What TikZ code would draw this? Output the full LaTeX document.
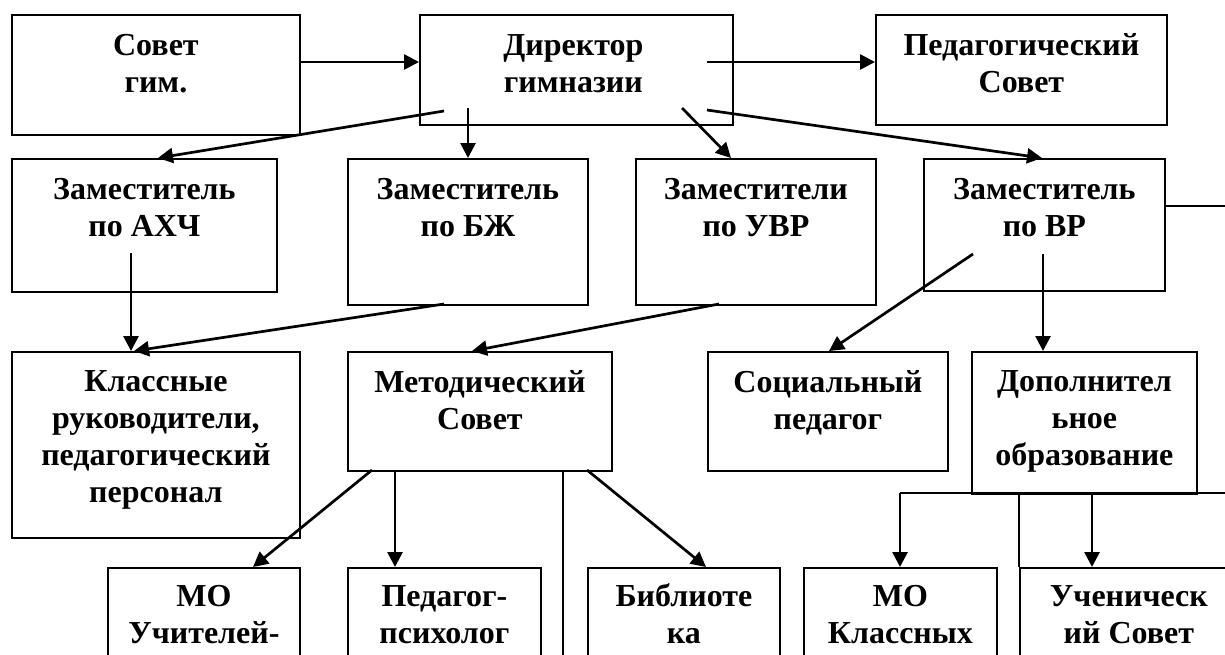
\documentclass[tikz,border=0pt]{standalone}
\usepackage{fontspec}
\setmainfont{Liberation Serif}
\usetikzlibrary{arrows.meta,calc}
\begin{document}
\begin{tikzpicture}[x=1pt,y=-1pt,
  box/.style={draw, line width=1.8pt, rectangle, inner sep=0pt, anchor=north west},
  lbl/.style={font=\bfseries\fontsize{32}{36.7}\selectfont, align=center, anchor=base, inner sep=0pt},
  arr/.style={line width=2.7pt, -{Triangle[length=15pt,width=15pt]}},
  ln/.style={line width=2.2pt}]
\useasboundingbox (0,0) rectangle (1225,654);
\clip (0,0) rectangle (1225,654);
% boxes
\node[box, minimum width=288pt, minimum height=120pt] (sov) at (11,14) {};
\node[box, minimum width=313pt, minimum height=110pt] (dir) at (419,14) {};
\node[box, minimum width=291pt, minimum height=110pt] (ped) at (875,14) {};
\node[box, minimum width=265pt, minimum height=133pt] (zahch) at (11,158) {};
\node[box, minimum width=240pt, minimum height=146pt] (zbzh) at (347,158) {};
\node[box, minimum width=240pt, minimum height=146pt] (zuvr) at (635,158) {};
\node[box, minimum width=241pt, minimum height=132pt] (zvr) at (923,158) {};
\node[box, minimum width=288pt, minimum height=186pt] (kl) at (11,351) {};
\node[box, minimum width=264pt, minimum height=119pt] (met) at (347,351) {};
\node[box, minimum width=240pt, minimum height=119pt] (soc) at (707,351) {};
\node[box, minimum width=225pt, minimum height=142pt] (dop) at (971,351) {};
\node[box, minimum width=192pt, minimum height=140pt] (mou) at (107,567) {};
\node[box, minimum width=193pt, minimum height=140pt] (psy) at (347,567) {};
\node[box, minimum width=192pt, minimum height=140pt] (bib) at (587,567) {};
\node[box, minimum width=193pt, minimum height=140pt] (mok) at (803,567) {};
\node[box, minimum width=218pt, minimum height=140pt] (uch) at (1019,567) {};
% texts (anchor = baseline of the last line)
\node[lbl] (sov-t) at ($(sov.north)+(0,78)$) {Совет\\гим.};
\node[lbl] (dir-t) at ($(dir.north)+(-3,78)$) {Директор\\гимназии};
\node[lbl] (ped-t) at ($(ped.north)+(0,78)$) {Педагогический\\Совет};
\node[lbl] (zahch-t) at ($(zahch.north)+(0,78)$) {Заместитель\\по АХЧ};
\node[lbl] (zbzh-t) at ($(zbzh.north)+(0,78)$) {Заместитель\\по БЖ};
\node[lbl] (zuvr-t) at ($(zuvr.north)+(0,78)$) {Заместители\\по УВР};
\node[lbl] (zvr-t) at ($(zvr.north)+(0,78)$) {Заместитель\\по ВР};
\node[lbl] (kl-t) at ($(kl.north)+(0,151)$) {Классные\\руководители,\\педагогический\\персонал};
\node[lbl] (met-t) at ($(met.north)+(0,78)$) {Методический\\Совет};
\node[lbl] (soc-t) at ($(soc.north)+(0,78)$) {Социальный\\педагог};
\node[lbl] (dop-t) at ($(dop.north)+(0,114)$) {Дополнител\\ьное\\образование};
\node[lbl] (mou-t) at ($(mou.north)+(0,76)$) {МО\\Учителей-};
\node[lbl] (psy-t) at ($(psy.north)+(0,76)$) {Педагог-\\психолог};
\node[lbl] (bib-t) at ($(bib.north)+(0,76)$) {Библиоте\\ка};
\node[lbl] (mok-t) at ($(mok.north)+(0,76)$) {МО\\Классных};
\node[lbl] (uch-t) at ($(uch.north)+(0,76)$) {Ученическ\\ий Совет};
% connectors
\draw[arr] ($(sov.north east)+(0,48)$) -- ($(dir.north west)+(0,48)$);
\draw[arr] ($(dir.north west)+(288,48)$) -- ($(ped.north west)+(0,48)$);
\draw[arr] ($(dir.north west)+(25,97)$) -- ($(zahch.north west)+(147,0)$);
\draw[arr] ($(dir.north west)+(49,94)$) -- ($(zbzh.north west)+(121,0)$);
\draw[arr] ($(dir.north west)+(263,94)$) -- ($(zuvr.north west)+(96,0)$);
\draw[arr] ($(dir.north west)+(288,96)$) -- ($(zvr.north west)+(119,0)$);
\draw[arr] ($(zahch.north west)+(120,95)$) -- ($(kl.north west)+(120,0)$);
\draw[arr] ($(zbzh.north west)+(97,146)$) -- ($(kl.north west)+(123,0)$);
\draw[arr] ($(zuvr.north west)+(84,146)$) -- ($(met.north west)+(125,0)$);
\draw[arr] ($(zvr.north west)+(50,96)$) -- ($(soc.north west)+(122,0)$);
\draw[arr] ($(zvr.north west)+(120,96)$) -- ($(dop.north west)+(72,0)$);
\coordinate (rightA) at (1240,206);
\draw[ln] ($(zvr.north east)+(0,48)$) -- (rightA);
\draw[arr] ($(met.north west)+(25,119)$) -- ($(mou.north west)+(146,0)$);
\draw[arr] ($(met.north west)+(48,119)$) -- ($(psy.north west)+(48,0)$);
\coordinate (metdown) at (563,700);
\draw[ln] ($(met.north west)+(216,119)$) -- (metdown);
\draw[arr] ($(met.north west)+(240,119)$) -- ($(bib.north west)+(119,0)$);
\coordinate (rightB) at (1240,493);
\coordinate (dopl) at (900,493);
\draw[ln] (dopl) -- (rightB);
\draw[arr] (dopl) -- ($(mok.north west)+(97,0)$);
\draw[arr] ($(dop.south west)+(121,0)$) -- ($(uch.north west)+(73,0)$);
\draw[ln] ($(dop.south west)+(48,0)$) -- (uch.north west);
\end{tikzpicture}
\end{document}
